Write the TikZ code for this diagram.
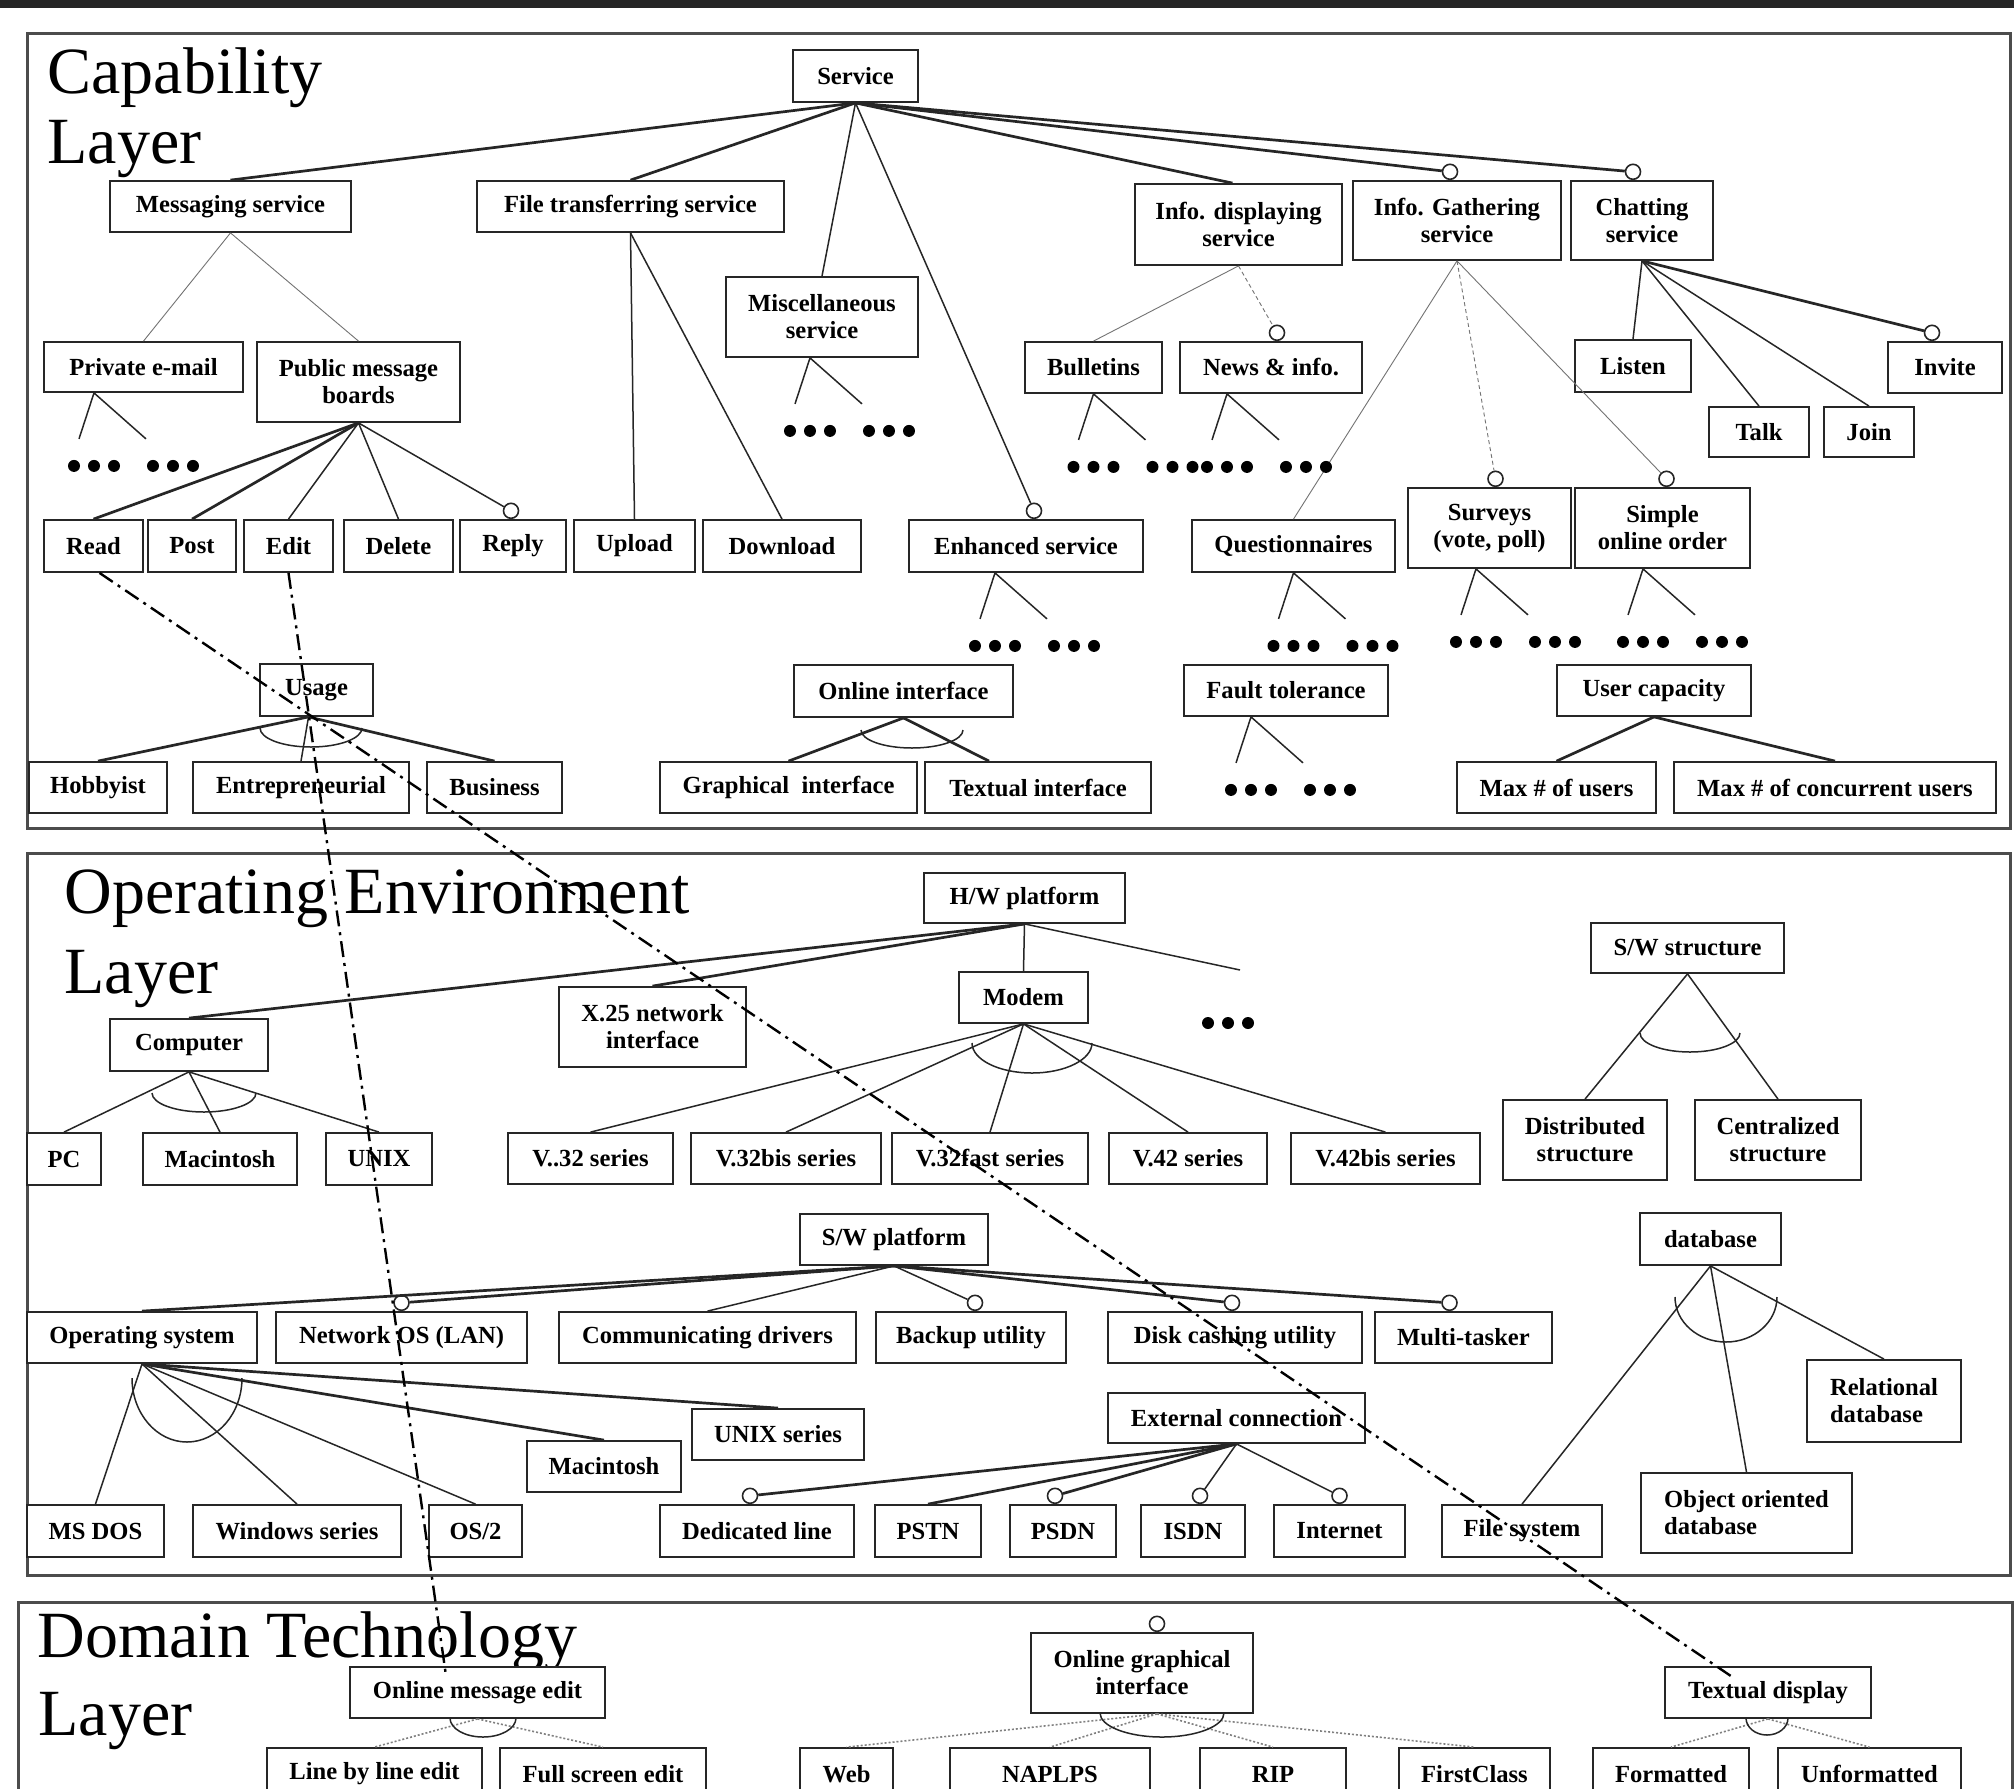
\documentclass[tikz,border=0pt]{standalone}
\usepackage{fontspec}
\setmainfont{Liberation Serif}
\usetikzlibrary{calc}
\newcommand\boxfont{\fontsize{12.3pt}{13.5pt}\selectfont\bfseries}
\newcommand\layerfont{\fontsize{33pt}{35pt}\selectfont}
% a feature box given by its corner coordinates (px)
\newcommand\bx[7][]{\node[box,#1,minimum width=0.5pt*(#5-#3),minimum height=0.5pt*(#6-#4)] (#2) at ({(#3+#5)/2},{(#4+#6)/2}) {#7};}
% two open branches ending in "..." below a feature
\newcommand\leaves[2]{%
  \coordinate (#1o) at ([xshift=#2]#1.south);
  \coordinate (#1l) at ($(#1o)+(-15,46)$);
  \coordinate (#1r) at ($(#1o)+(52,46)$);
  \draw[conn] (#1o) -- (#1l) (#1o) -- (#1r);
  \foreach \dx in {-20,0,20,59,79,99} \fill ($(#1o)+(\dx,73)$) circle[radius=3pt];
}
% alternative-group arc (centre x, top y, x radius, y radius, in px)
\newcommand\altarc[4]{\draw[altarc] (#1-#3,#2) arc[start angle=180,end angle=360,x radius=#3*0.5pt,y radius=#4*0.5pt];}
\begin{document}
\begin{tikzpicture}[x=0.5pt,y=-0.5pt,
  box/.style={draw=black!85,line width=0.9pt,fill=white,inner sep=0pt,align=center,font=\boxfont},
  opt/.style={circle,draw=black!85,fill=white,line width=0.8pt,minimum size=7.5pt,inner sep=0pt,anchor=south},
  conn/.style={draw=black!85,line width=0.75pt},
  connb/.style={draw=black!85,line width=1.35pt},
  faint/.style={draw=black!55,line width=0.45pt},
  faintd/.style={faint,dash pattern=on 2pt off 1.5pt},
  dotc/.style={draw=black!50,line width=0.8pt,dash pattern=on 1pt off 1pt},
  trace/.style={draw=black,line width=1.2pt,dash pattern=on 8pt off 3pt on 1.5pt off 3pt},
  altarc/.style={draw=black!85,line width=0.75pt},
  frame/.style={draw=black!70,line width=1.5pt},
  title/.style={anchor=base west,inner sep=0pt,font=\layerfont}]
\clip (0,0) rectangle (2014,1789);
\fill[white] (0,0) rectangle (2014,1789);
\fill[black!85] (0,0) rectangle (2014,8);

% layer frames
\draw[frame] (27,33) rectangle (2010,828);
\draw[frame] (27,853) rectangle (2010,1575);
\draw[frame] (18,1602) rectangle (2012,1850);

% layer titles
\node[title] (capA) at (47,93) {Capability};
\node[title] (capB) at (47,163) {Layer};
\node[title] (oeA) at (64,913) {Operating Environment};
\node[title] (oeB) at (64,993) {Layer};
\node[title] (dtA) at (37,1657) {Domain Technology};
\node[title] (dtB) at (38,1735) {Layer};

% ---------------- Capability layer ----------------
\bx{svc}{793}{50}{918}{102}{Service}
\bx{msg}{110}{181}{351}{232}{Messaging service}
\bx{ftp}{477}{181}{784}{232}{File transferring service}
\bx{misc}{726}{277}{918}{357}{Miscellaneous\\service}
\bx{idisp}{1135}{184}{1342}{265}{Info. displaying\\service}
\bx{igath}{1353}{181}{1561}{260}{Info. Gathering\\service}
\bx{chat}{1571}{181}{1713}{260}{Chatting\\service}
\bx{pmail}{44}{342}{243}{392}{Private e-mail}
\bx{pmb}{257}{342}{460}{422}{Public message\\boards}
\bx{bull}{1025}{342}{1162}{393}{Bulletins}
\bx{news}{1180}{342}{1362}{393}{News \& info.}
\bx{listen}{1575}{340}{1691}{392}{Listen}
\bx{invite}{1888}{342}{2002}{393}{Invite}
\bx{talk}{1709}{407}{1809}{457}{Talk}
\bx{join}{1824}{407}{1914}{457}{Join}
\bx{read}{44}{520}{143}{572}{Read}
\bx{post}{148}{520}{236}{572}{Post}
\bx{edit}{244}{520}{333}{572}{Edit}
\bx{del}{344}{520}{453}{572}{Delete}
\bx{reply}{460}{520}{566}{572}{Reply}
\bx{upl}{574}{520}{695}{572}{Upload}
\bx{dnl}{703}{520}{861}{572}{Download}
\bx{enh}{909}{520}{1143}{572}{Enhanced service}
\bx{quest}{1192}{520}{1395}{572}{Questionnaires}
\bx{surv}{1408}{488}{1571}{568}{Surveys\\(vote, poll)}
\bx{simple}{1575}{488}{1750}{568}{Simple\\online order}
\bx{usage}{260}{664}{373}{716}{Usage}
\bx{oif}{794}{665}{1013}{717}{Online interface}
\bx{fault}{1184}{665}{1388}{716}{Fault tolerance}
\bx{ucap}{1557}{665}{1751}{716}{User capacity}
\bx{hobby}{29}{762}{167}{813}{Hobbyist}
\bx{entre}{193}{762}{409}{813}{Entrepreneurial}
\bx{biz}{427}{762}{562}{813}{Business}
\bx{gif}{660}{762}{917}{813}{Graphical\ \ interface}
\bx{tif}{925}{762}{1151}{813}{Textual interface}
\bx{maxu}{1457}{762}{1656}{813}{Max \# of users}
\bx{maxc}{1674}{762}{1996}{813}{Max \# of concurrent users}

\node[opt] (oIgath) at ([xshift=-3.5pt]igath.north) {};
\node[opt] (oChat) at ([xshift=-4.5pt]chat.north) {};
\node[opt] (oNews) at ([xshift=3pt]news.north) {};
\node[opt] (oInvite) at ([xshift=-6.5pt]invite.north) {};
\node[opt] (oReply) at ([xshift=-1pt]reply.north) {};
\node[opt] (oEnh) at ([xshift=4pt]enh.north) {};
\node[opt] (oSurv) at ([xshift=3pt]surv.north) {};
\node[opt] (oSimple) at ([xshift=2pt]simple.north) {};

\draw[connb] (svc.south) -- (msg.north);
\draw[connb] (svc.south) -- (ftp.north);
\draw[conn] (svc.south) -- (misc.north);
\draw[conn] (svc.south) -- (oEnh);
\draw[connb] (svc.south) -- ([xshift=-3pt]idisp.north);
\draw[connb] (svc.south) -- (oIgath);
\draw[connb] (svc.south) -- (oChat);

\draw[faint] (msg.south) -- (pmail.north);
\draw[faint] (msg.south) -- (pmb.north);
\draw[faint] (idisp.south) -- (bull.north);
\draw[faintd] (idisp.south) -- (oNews);
\draw[faint] (igath.south) -- (quest.north);
\draw[faintd] (igath.south) -- (oSurv);
\draw[faint] (igath.south) -- (oSimple);

\draw[connb] (pmb.south) -- (read.north);
\draw[connb] (pmb.south) -- (post.north);
\draw[conn] (pmb.south) -- (edit.north);
\draw[conn] (pmb.south) -- (del.north);
\draw[conn] (pmb.south) -- (oReply);
\draw[conn] (ftp.south) -- (upl.north);
\draw[conn] (ftp.south) -- (dnl.north);

\draw[conn] (chat.south) -- (listen.north);
\draw[conn] (chat.south) -- (talk.north);
\draw[conn] (chat.south) -- (join.north);
\draw[connb] (chat.south) -- (oInvite);

\leaves{pmail}{-24.75pt}
\leaves{misc}{-6pt}
\leaves{bull}{0pt}
\leaves{news}{-22pt}
\leaves{enh}{-15.5pt}
\leaves{quest}{0pt}
\leaves{surv}{-6.75pt}
\leaves{simple}{-9.75pt}
\leaves{fault}{-17.5pt}

\draw[connb] ([xshift=-4pt]usage.south) -- (hobby.north);
\draw[conn] ([xshift=-4pt]usage.south) -- (entre.north);
\draw[connb] ([xshift=-4pt]usage.south) -- (biz.north);
\altarc{311}{728}{51}{19}
\draw[connb] (oif.south) -- (gif.north);
\draw[connb] (oif.south) -- ([xshift=-24.5pt]tif.north);
\altarc{912}{730}{51}{18}
\draw[connb] (ucap.south) -- (maxu.north);
\draw[connb] (ucap.south) -- (maxc.north);

% ---------------- Operating environment layer ----------------
\bx{hw}{924}{873}{1125}{923}{H/W platform}
\bx{x25}{559}{987}{746}{1067}{X.25 network\\interface}
\bx{modem}{959}{972}{1088}{1023}{Modem}
\bx{comp}{110}{1019}{268}{1071}{Computer}
\bx{sws}{1591}{923}{1784}{973}{S/W structure}
\bx{pc}{27}{1133}{101}{1185}{PC}
\bx{mac}{143}{1133}{297}{1185}{Macintosh}
\bx{unix}{326}{1133}{432}{1185}{UNIX}
\bx{vA}{508}{1133}{673}{1184}{V..32 series}
\bx{vB}{691}{1133}{881}{1184}{V.32bis series}
\bx{vC}{892}{1133}{1088}{1184}{V.32fast series}
\bx{vD}{1109}{1133}{1267}{1184}{V.42 series}
\bx{vE}{1291}{1133}{1480}{1184}{V.42bis series}
\bx{dist}{1503}{1100}{1667}{1180}{Distributed\\structure}
\bx{cent}{1695}{1100}{1861}{1180}{Centralized\\structure}
\bx{swp}{800}{1214}{988}{1265}{S/W platform}
\bx{db}{1640}{1213}{1781}{1265}{database}
\bx{os}{27}{1312}{257}{1363}{Operating system}
\bx{nos}{276}{1312}{527}{1363}{Network OS (LAN)}
\bx{cdrv}{559}{1312}{856}{1363}{Communicating drivers}
\bx{bkp}{876}{1312}{1066}{1363}{Backup utility}
\bx{disk}{1108}{1312}{1362}{1363}{Disk cashing utility}
\bx{mt}{1375}{1312}{1552}{1363}{Multi-tasker}
\bx{ext}{1108}{1393}{1365}{1443}{External connection}
\bx{unixs}{692}{1409}{864}{1460}{UNIX series}
\bx{macB}{527}{1441}{681}{1492}{Macintosh}
\bx[align=left]{rel}{1807}{1360}{1961}{1442}{Relational\\database}
\bx[align=left]{ood}{1641}{1473}{1852}{1553}{Object oriented\\database}
\bx{msdos}{27}{1505}{164}{1557}{MS DOS}
\bx{win}{193}{1505}{401}{1557}{Windows series}
\bx{os2}{429}{1505}{522}{1557}{OS/2}
\bx{ded}{660}{1505}{854}{1557}{Dedicated line}
\bx{pstn}{875}{1505}{981}{1557}{PSTN}
\bx{psdn}{1010}{1505}{1116}{1557}{PSDN}
\bx{isdn}{1141}{1505}{1245}{1557}{ISDN}
\bx{inet}{1274}{1505}{1405}{1557}{Internet}
\bx{fsys}{1442}{1505}{1602}{1557}{File system}

\node[opt] (oNos) at (nos.north) {};
\node[opt] (oBkp) at ([xshift=2pt]bkp.north) {};
\node[opt] (oDisk) at ([xshift=-1.5pt]disk.north) {};
\node[opt] (oMt) at ([xshift=-7pt]mt.north) {};
\node[opt] (oDed) at ([xshift=-3.5pt]ded.north) {};
\node[opt] (oPsdn) at ([xshift=-4pt]psdn.north) {};
\node[opt] (oIsdn) at ([xshift=3.5pt]isdn.north) {};
\node[opt] (oInet) at (inet.north) {};

\coordinate (hwMore) at (1240,970);
\draw[connb] (hw.south) -- (comp.north);
\draw[connb] (hw.south) -- (x25.north);
\draw[conn] (hw.south) -- (modem.north);
\draw[conn] (hw.south) -- (hwMore);
\foreach \dx in {-20,0,20} \fill ($(hwMore)+(\dx-12,53)$) circle[radius=3pt];

\foreach \v in {vA,vB,vC,vD,vE} \draw[conn] (modem.south) -- (\v.north);
\altarc{1032}{1043}{60}{30}
\foreach \v in {pc,mac,unix} \draw[conn] (comp.south) -- (\v.north);
\altarc{204}{1093}{52}{19}
\draw[conn] (sws.south) -- (dist.north);
\draw[conn] (sws.south) -- (cent.north);
\altarc{1690}{1033}{50}{19}

\draw[connb] (swp.south) -- (os.north);
\draw[connb] (swp.south) -- (oNos);
\draw[conn] (swp.south) -- (cdrv.north);
\draw[conn] (swp.south) -- (oBkp);
\draw[connb] (swp.south) -- (oDisk);
\draw[connb] (swp.south) -- (oMt);

\draw[conn] (os.south) -- (msdos.north);
\draw[conn] (os.south) -- (win.north);
\draw[conn] (os.south) -- (os2.north);
\draw[connb] (os.south) -- (macB.north);
\draw[connb] (os.south) -- (unixs.north);
\altarc{187}{1378}{55}{64}

\draw[connb] (ext.south) -- (oDed);
\draw[connb] (ext.south) -- (pstn.north);
\draw[connb] (ext.south) -- (oPsdn);
\draw[conn] (ext.south) -- (oIsdn);
\draw[conn] (ext.south) -- (oInet);

\draw[conn] (db.south) -- (fsys.north);
\draw[conn] (db.south) -- (ood.north);
\draw[conn] (db.south) -- (rel.north);
\altarc{1726}{1297}{51}{45}

% ---------------- Domain technology layer ----------------
\bx{ome}{350}{1667}{605}{1718}{Online message edit}
\bx{ogi}{1031}{1633}{1253}{1713}{Online graphical\\interface}
\bx{tdisp}{1665}{1667}{1871}{1718}{Textual display}
\bx{lbl}{267}{1748}{482}{1800}{Line by line edit}
\bx{fse}{500}{1748}{706}{1800}{Full screen edit}
\bx{web}{800}{1748}{893}{1800}{Web}
\bx{nap}{950}{1748}{1150}{1800}{NAPLPS}
\bx{rip}{1200}{1748}{1346}{1800}{RIP}
\bx{fcl}{1399}{1748}{1550}{1800}{FirstClass}
\bx{fmt}{1593}{1748}{1749}{1800}{Formatted}
\bx{unf}{1778}{1748}{1961}{1800}{Unformatted}
\node[opt] (oOgi) at ([xshift=7.5pt]ogi.north) {};

\draw[dotc] (ome.south) -- (lbl.north);
\draw[dotc] (ome.south) -- (fse.north);
\altarc{483}{1718}{33}{19}
\foreach \v in {web,nap,rip,fcl} \draw[dotc] ([xshift=7.5pt]ogi.south) -- (\v.north);
\altarc{1162}{1713}{62}{24}
\draw[dotc] (tdisp.south) -- (fmt.north);
\draw[dotc] (tdisp.south) -- (unf.north);
\altarc{1767}{1718}{21}{17}

% traceability links across the layers
\draw[trace] ([xshift=3pt]read.south) -- ([xshift=-17pt,yshift=-6pt]tdisp.north);
\draw[trace] (edit.south) -- ([xshift=-16pt,yshift=-3pt]ome.north);
\end{tikzpicture}
\end{document}
